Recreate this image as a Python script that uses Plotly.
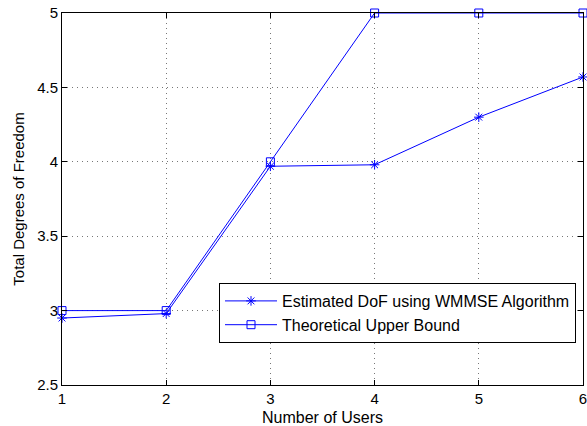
import plotly.graph_objects as go

users = [1, 2, 3, 4, 5, 6]
estimated_dof = [2.95, 2.98, 3.97, 3.98, 4.30, 4.57]
upper_bound = [3, 3, 4, 5, 5, 5]
x_ticks = [1, 2, 3, 4, 5, 6]
y_ticks = [2.5, 3, 3.5, 4, 4.5, 5]
y_tick_labels = ["2.5", "3", "3.5", "4", "4.5", "5"]

FONT = "Liberation Sans, Arial, Helvetica"

fig = go.Figure()
fig.add_trace(go.Scatter(
    x=users, y=estimated_dof, mode="lines+markers",
    name="Estimated DoF using WMMSE Algorithm",
    line=dict(color="#0000ff", width=1),
    marker=dict(symbol="asterisk-open", size=8, color="#0000ff", line=dict(color="#0000ff", width=1)),
    cliponaxis=False,
))
fig.add_trace(go.Scatter(
    x=users, y=upper_bound, mode="lines+markers",
    name="Theoretical Upper Bound",
    line=dict(color="#0000ff", width=1),
    marker=dict(symbol="square-open", size=8, color="#0000ff", line=dict(color="#0000ff", width=1)),
    cliponaxis=False,
))

axis_common = dict(
    showline=True, linecolor="black", linewidth=1, mirror="ticks",
    ticks="inside", ticklen=5, tickcolor="black",
    showgrid=True, gridcolor="#777777", griddash="1px,4px", gridwidth=1,
    zeroline=False, automargin=False, ticklabeloverflow="allow",
    tickfont=dict(family=FONT, size=15, color="black"),
)

fig.update_layout(
    width=587, height=426,
    margin=dict(l=62, r=4, t=13, b=41),
    paper_bgcolor="white", plot_bgcolor="white",
    font=dict(family=FONT, size=15, color="black"),
    showlegend=True,
    legend=dict(
        x=(219 - 62) / 521, y=(385 - 283) / 372, xanchor="left", yanchor="top",
        bordercolor="black", borderwidth=1, bgcolor="white",
        font=dict(family=FONT, size=16), tracegroupgap=0,
        itemwidth=52,
    ),
    xaxis=dict(range=[1, 6], tickvals=x_ticks,
               title=dict(text="Number of Users", font=dict(family=FONT, size=16), standoff=8),
               **axis_common),
    yaxis=dict(range=[2.5, 5], tickvals=y_ticks, ticktext=y_tick_labels,
               title=dict(text="Total Degrees of Freedom", font=dict(family=FONT, size=15), standoff=8),
               **axis_common),
)

fig.write_html("out.html", config={"displayModeBar": False},
               post_script="document.body.style.margin='0';document.body.style.overflow='hidden';")
